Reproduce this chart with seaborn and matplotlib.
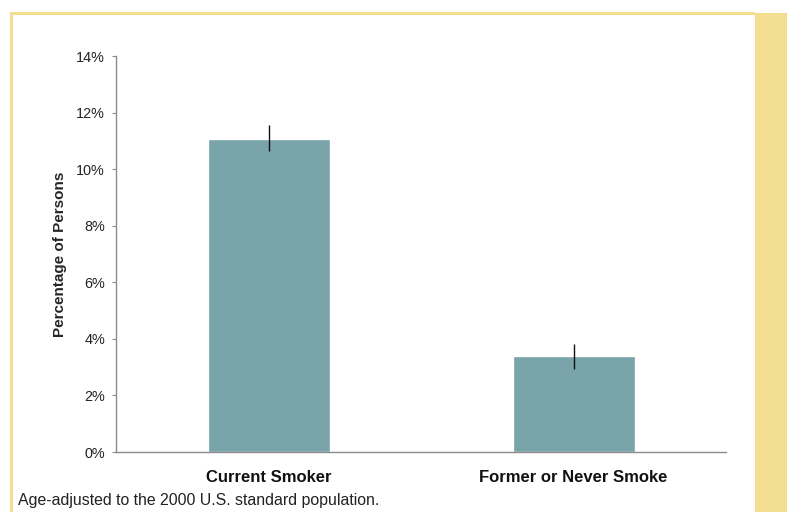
import matplotlib
matplotlib.use("Agg")
import matplotlib.pyplot as plt
import seaborn as sns
import pandas as pd
import numpy as np
from matplotlib.patches import Rectangle
from matplotlib.ticker import FuncFormatter

categories = ["Current Smoker", "Former or Never Smoke"]
percent = [11.08, 3.40]
ci_low = [10.65, 2.95]
ci_high = [11.55, 3.82]
yticks = [0, 2, 4, 6, 8, 10, 12, 14]

sns.set_theme(style="white")
plt.rcParams["font.family"] = ["Liberation Sans", "DejaVu Sans"]

bar_color = "#78A4AA"
gold = "#F2DE8E"
axis_gray = "#8C8C8C"

fig = plt.figure(figsize=(7.87, 5.12), dpi=100)
W, H = 787, 512

# panel frame: right band, top and left rules
fig.add_artist(Rectangle((755 / W, 0), 32 / W, 1 - 13 / H, transform=fig.transFigure,
                         facecolor=gold, edgecolor="none"))
fig.add_artist(Rectangle((10 / W, 1 - 15 / H), 745 / W, 3 / H, transform=fig.transFigure,
                         facecolor=gold, edgecolor="none"))
fig.add_artist(Rectangle((10 / W, 0), 2.5 / W, 1 - 13 / H, transform=fig.transFigure,
                         facecolor=gold, edgecolor="none"))

ax = fig.add_axes([116 / W, 1 - 452 / H, (726 - 116) / W, (452 - 56) / H])
df = pd.DataFrame({"status": categories, "pct": percent})
sns.barplot(data=df, x="status", y="pct", color=bar_color, saturation=1,
            width=0.4, errorbar=None, ax=ax)

pct = np.array(percent)
yerr = np.vstack([pct - np.array(ci_low), np.array(ci_high) - pct])
ax.errorbar(np.arange(len(categories)), pct, yerr=yerr, fmt="none",
            ecolor="#111111", elinewidth=1.0, capsize=0)

ax.set_ylim(0, 14)
ax.set_yticks(yticks)
ax.yaxis.set_major_formatter(FuncFormatter(lambda v, p: f"{int(v)}%"))
ax.set_xlim(-0.5, 1.5)
ax.set_xlabel("")
ax.set_ylabel("Percentage of Persons", fontsize=11, fontweight="bold")
ax.yaxis.set_label_coords(-(116 - 67) / 610, 0.5)

for s in ["top", "right"]:
    ax.spines[s].set_visible(False)
for s in ["left", "bottom"]:
    ax.spines[s].set_color(axis_gray)
    ax.spines[s].set_linewidth(1.0)

ax.tick_params(axis="y", left=True, length=3, width=0.8, color=axis_gray,
               labelsize=10.4, pad=5, labelcolor="#222222")
ax.tick_params(axis="x", bottom=False, labelsize=12, pad=7, labelcolor="#111111")
for lbl in ax.get_xticklabels():
    lbl.set_fontweight("bold")

fig.text(18 / W, 1 - 500 / H, "Age-adjusted to the 2000 U.S. standard population.",
         fontsize=11.4, color="#222222", va="center", ha="left")

fig.savefig("out.png", dpi=100)
